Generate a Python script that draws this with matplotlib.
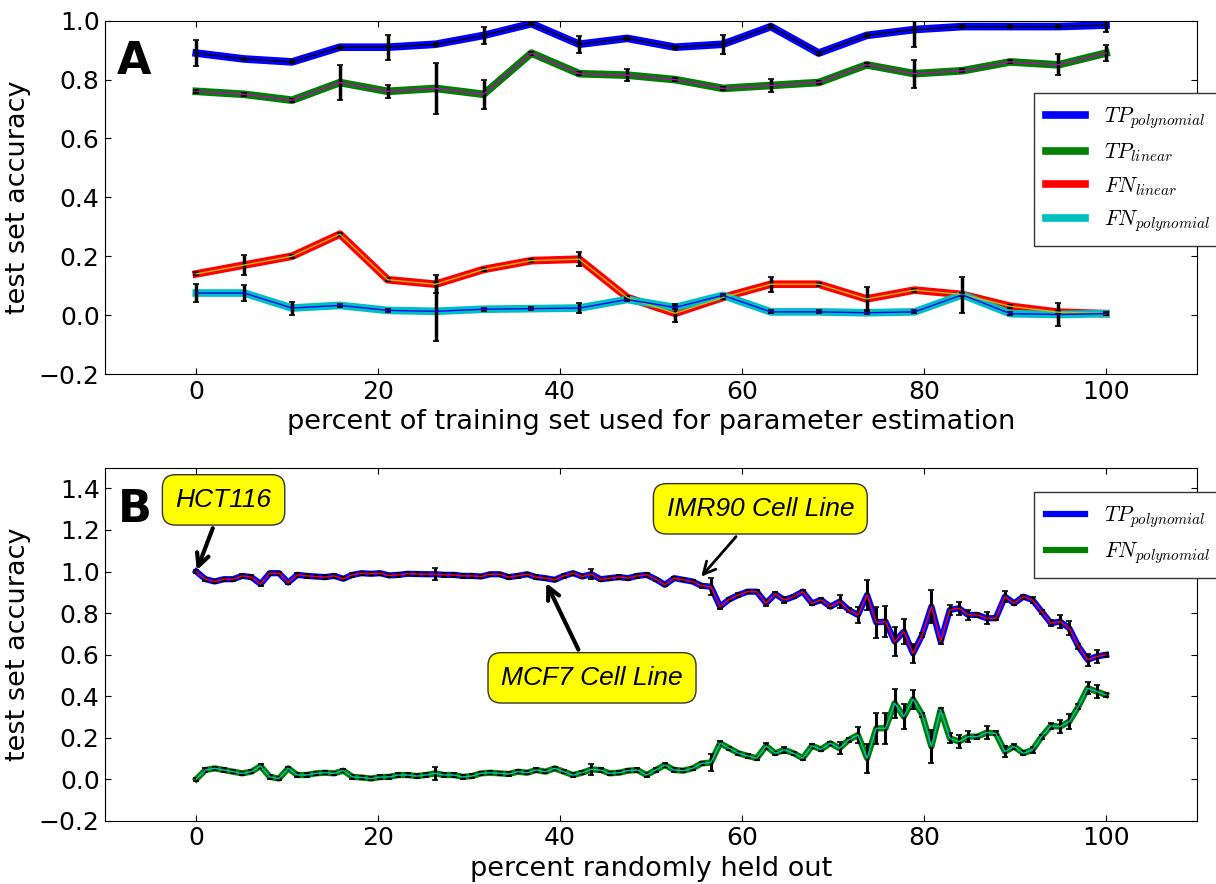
import numpy as np
import matplotlib
matplotlib.use("Agg")
import matplotlib.pyplot as plt

plt.rcParams['font.family'] = ['DejaVu Sans']
plt.rcParams['mathtext.fontset'] = 'cm'

# ---- panel A: 20 training-set fractions ----
x_a = np.linspace(0, 100, 20)
tp_poly_a = [0.89, 0.87, 0.86, 0.91, 0.91, 0.92, 0.95, 0.99, 0.92, 0.94,
             0.91, 0.92, 0.98, 0.89, 0.95, 0.97, 0.98, 0.98, 0.98, 0.985]
tp_poly_a_err = [0.045, 0.005, 0.005, 0.005, 0.043, 0.005, 0.028, 0.005, 0.029, 0.005,
                 0.005, 0.032, 0.005, 0.005, 0.005, 0.06, 0.005, 0.005, 0.005, 0.025]
tp_lin_a = [0.76, 0.75, 0.73, 0.79, 0.76, 0.77, 0.75, 0.89, 0.82, 0.815,
            0.80, 0.77, 0.78, 0.79, 0.85, 0.82, 0.83, 0.86, 0.85, 0.89]
tp_lin_a_err = [0.005, 0.005, 0.005, 0.06, 0.021, 0.087, 0.05, 0.005, 0.005, 0.021,
                0.005, 0.005, 0.022, 0.005, 0.005, 0.047, 0.005, 0.005, 0.036, 0.028]
fn_lin_a = [0.14, 0.17, 0.20, 0.275, 0.12, 0.105, 0.155, 0.185, 0.19, 0.06,
            0.006, 0.06, 0.105, 0.105, 0.055, 0.085, 0.07, 0.03, 0.01, 0.005]
fn_lin_a_err = [0.005, 0.034, 0.005, 0.005, 0.005, 0.031, 0.005, 0.005, 0.023, 0.005,
                0.031, 0.005, 0.025, 0.005, 0.039, 0.005, 0.005, 0.005, 0.005, 0.005]
fn_poly_a = [0.075, 0.075, 0.024, 0.033, 0.016, 0.013, 0.02, 0.022, 0.024, 0.053,
             0.026, 0.067, 0.011, 0.011, 0.008, 0.011, 0.069, 0.005, 0.002, 0.005]
fn_poly_a_err = [0.029, 0.027, 0.022, 0.005, 0.005, 0.1, 0.005, 0.005, 0.018, 0.005,
                 0.005, 0.005, 0.005, 0.005, 0.005, 0.005, 0.062, 0.005, 0.039, 0.005]

# ---- panel B: percent randomly held out ----
tp_poly_b = [1.0, 0.963, 0.952, 0.963, 0.963, 0.979, 0.973, 0.94, 0.992, 0.992,
             0.947, 0.984, 0.979, 0.976, 0.973, 0.979, 0.965, 0.984, 0.992, 0.989,
             0.992, 0.981, 0.984, 0.989, 0.988, 0.987, 0.987, 0.984, 0.984, 0.979,
             0.979, 0.976, 0.987, 0.987, 0.973, 0.979, 0.987, 0.973, 0.968, 0.960,
             0.979, 0.992, 0.976, 0.987, 0.963, 0.968, 0.973, 0.968, 0.979, 0.984,
             0.963, 0.936, 0.968, 0.960, 0.952, 0.931, 0.927, 0.831, 0.866, 0.887,
             0.903, 0.903, 0.847, 0.892, 0.863, 0.879, 0.903, 0.847, 0.863, 0.831,
             0.855, 0.815, 0.791, 0.887, 0.755, 0.759, 0.663, 0.711, 0.606, 0.695,
             0.831, 0.663, 0.815, 0.823, 0.791, 0.791, 0.775, 0.775, 0.879, 0.847,
             0.879, 0.863, 0.807, 0.751, 0.759, 0.727, 0.639, 0.575, 0.591, 0.599]
fn_poly_b = [0.0, 0.044, 0.052, 0.044, 0.036, 0.028, 0.036, 0.063, 0.011, 0.003,
             0.052, 0.020, 0.020, 0.028, 0.031, 0.028, 0.041, 0.011, 0.008, 0.003,
             0.010, 0.011, 0.020, 0.020, 0.015, 0.020, 0.028, 0.020, 0.020, 0.011,
             0.015, 0.028, 0.031, 0.028, 0.025, 0.036, 0.031, 0.044, 0.036, 0.052,
             0.036, 0.020, 0.031, 0.047, 0.044, 0.028, 0.031, 0.041, 0.044, 0.020,
             0.044, 0.068, 0.044, 0.041, 0.052, 0.076, 0.080, 0.173, 0.149, 0.125,
             0.112, 0.101, 0.160, 0.125, 0.141, 0.125, 0.101, 0.160, 0.144, 0.173,
             0.149, 0.189, 0.213, 0.101, 0.245, 0.245, 0.366, 0.301, 0.385, 0.310,
             0.157, 0.334, 0.197, 0.181, 0.205, 0.205, 0.224, 0.221, 0.133, 0.157,
             0.125, 0.141, 0.205, 0.257, 0.253, 0.277, 0.350, 0.438, 0.422, 0.406]
err_b = [0.008, 0.008, 0.008, 0.008, 0.008, 0.008, 0.008, 0.008, 0.008, 0.008,
         0.008, 0.008, 0.008, 0.008, 0.008, 0.008, 0.008, 0.008, 0.008, 0.008,
         0.008, 0.008, 0.008, 0.008, 0.008, 0.008, 0.03, 0.008, 0.008, 0.008,
         0.008, 0.008, 0.008, 0.008, 0.008, 0.008, 0.008, 0.008, 0.008, 0.008,
         0.008, 0.008, 0.008, 0.025, 0.008, 0.008, 0.008, 0.008, 0.008, 0.008,
         0.008, 0.008, 0.008, 0.008, 0.008, 0.008, 0.04, 0.01, 0.008, 0.008,
         0.008, 0.008, 0.015, 0.008, 0.015, 0.008, 0.008, 0.008, 0.008, 0.008,
         0.03, 0.008, 0.04, 0.07, 0.075, 0.075, 0.07, 0.06, 0.045, 0.01,
         0.08, 0.01, 0.025, 0.03, 0.025, 0.01, 0.03, 0.01, 0.025, 0.01,
         0.01, 0.015, 0.01, 0.015, 0.03, 0.035, 0.01, 0.03, 0.03, 0.01]
x_b = np.linspace(0, 100, len(tp_poly_b))


def draw(ax, x, y, err, thick, inner, lw, label, elw, cap):
    line, = ax.plot(x, y, color=thick, lw=lw, label=label, zorder=2)
    ax.errorbar(x, y, yerr=err, fmt='-', color=inner, lw=1, ecolor='k',
                elinewidth=elw, capsize=cap, capthick=1.2, zorder=3)
    return line


def style(ax, ylim, yticks):
    ax.set_xlim(-10, 110)
    ax.set_ylim(*ylim)
    ax.set_xticks([0, 20, 40, 60, 80, 100])
    ax.set_yticks(yticks)
    ax.set_yticklabels([('%.1f' % t).replace('-', '\u2212') for t in yticks])
    ax.tick_params(direction='in', top=True, right=True, labelsize=18,
                   length=4, pad=4)
    ax.set_ylabel('test set accuracy', fontsize=19.5, labelpad=6)


def add_legend(ax, handles, top):
    leg = ax.legend(handles=handles, loc='upper left',
                    bbox_to_anchor=(0.851, top), borderaxespad=0, fontsize=15.5,
                    fancybox=False, edgecolor='#333333', framealpha=1,
                    handlelength=1.8, handletextpad=0.9, labelspacing=0.5,
                    borderpad=0.55)
    leg.get_frame().set_linewidth(1.0)
    return leg


fig = plt.figure(figsize=(12.16, 8.84), dpi=100)
W, H = 1216.0, 884.0
ax1 = fig.add_axes([105.3 / W, 1 - 374 / H, (1197 - 105.3) / W, (374 - 20.7) / H])
ax2 = fig.add_axes([105.3 / W, 1 - 820.7 / H, (1197 - 105.3) / W, (820.7 - 467.7) / H])

# panel A
h1 = draw(ax1, x_a, tp_poly_a, tp_poly_a_err, 'b', 'k', 5.5, r'$TP_{polynomial}$', 2.5, 2.5)
h2 = draw(ax1, x_a, tp_lin_a, tp_lin_a_err, 'g', 'm', 5.5, r'$TP_{linear}$', 2.5, 2.5)
h3 = draw(ax1, x_a, fn_lin_a, fn_lin_a_err, 'r', 'y', 5.5, r'$FN_{linear}$', 2.5, 2.5)
h4 = draw(ax1, x_a, fn_poly_a, fn_poly_a_err, 'c', 'b', 5.5, r'$FN_{polynomial}$', 2.5, 2.5)
style(ax1, (-0.2, 1.0), np.arange(-0.2, 1.01, 0.2))
ax1.set_xlabel('percent of training set used for parameter estimation', fontsize=19.5)
ax1.text(0.0107, 0.945, 'A', transform=ax1.transAxes, fontsize=32,
         fontweight='bold', va='top', ha='left')
add_legend(ax1, [h1, h2, h3, h4], 0.795)

# panel B
g1 = draw(ax2, x_b, tp_poly_b, err_b, 'b', 'r', 4.5, r'$TP_{polynomial}$', 2.2, 2.0)
g2 = draw(ax2, x_b, fn_poly_b, err_b, 'g', 'c', 4.5, r'$FN_{polynomial}$', 2.2, 2.0)
style(ax2, (-0.2, 1.5), np.arange(-0.2, 1.41, 0.2))
ax2.set_xlabel('percent randomly held out', fontsize=19.5)
ax2.text(0.0117, 0.9425, 'B', transform=ax2.transAxes, fontsize=32,
         fontweight='bold', va='top', ha='left')
add_legend(ax2, [g1, g2], 0.931)

box = dict(boxstyle='round,pad=0.5', fc='yellow', ec='#333333', lw=1)
notes = [('HCT116', (0, 1.0), (3.0, 1.345), 3.0),
         ('IMR90 Cell Line', (55.4, 0.97), (62.0, 1.302), 2.0),
         ('MCF7 Cell Line', (38.4, 0.951), (43.5, 0.488), 3.0)]
for txt, tip, pos, alw in notes:
    ax2.annotate(txt, xy=tip, xytext=pos, ha='center', va='center',
                 fontsize=19, fontstyle='italic', family='Liberation Sans',
                 bbox=box, zorder=5,
                 arrowprops=dict(arrowstyle='->', lw=alw, color='k',
                                 mutation_scale=22, shrinkB=1))

fig.savefig('out.png', dpi=100)
